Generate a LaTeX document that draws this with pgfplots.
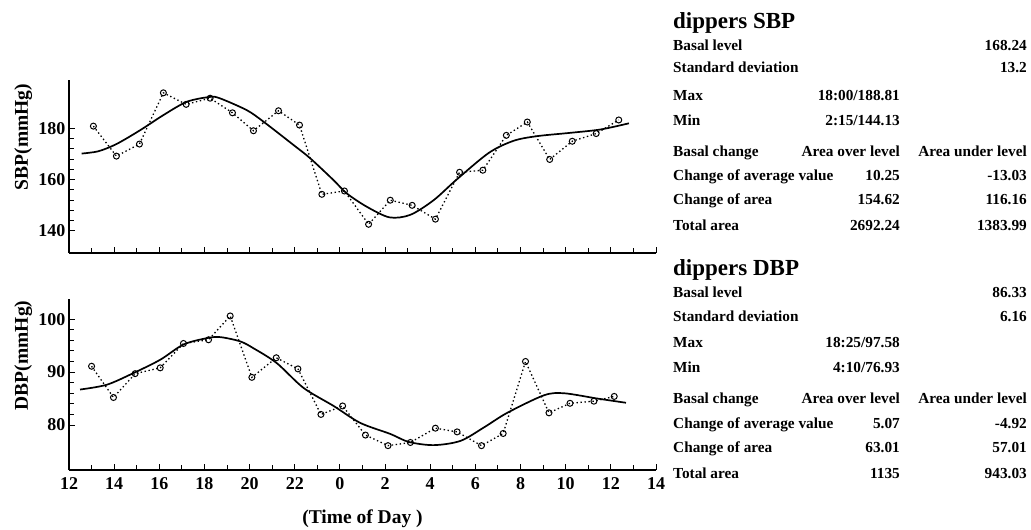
\documentclass[border=0pt]{standalone}
\usepackage{fontspec}
\setmainfont{Liberation Serif}
\usepackage{pgfplots}
\pgfplotsset{compat=1.18}
\newcommand\rt{\fontsize{15.3}{17}\selectfont\bfseries}
\newcommand\ttl{\fontsize{23}{26}\selectfont\bfseries}
\begin{document}
\begin{tikzpicture}
\useasboundingbox (0pt,0pt) rectangle (1031pt,-530pt);
\pgfplotsset{
 bpaxis/.style={
  scale only axis, width=587pt,
  xmin=12, xmax=38,
  axis x line=bottom, axis y line=left,
  axis line style={-, line width=1.6pt},
  tick align=inside,
  xtick={12,14,...,38}, minor x tick num=1,
  minor y tick num=4,
  major tick length=6pt, minor tick length=5pt,
  every tick/.style={line width=1pt, black},
  tick label style={font=\fontsize{18}{20}\selectfont\bfseries},
  /pgf/number format/assume math mode=true,
  label style={font=\fontsize{19.5}{22}\selectfont\bfseries},
  ylabel style={at={(axis description cs:-0.078,0.67)}, anchor=center},
  clip=false,
 },
 obs/.style={black, dash pattern=on 1.4pt off 2.6pt, line width=1.3pt, mark=o, mark size=3pt, mark options={solid, line width=1pt}},
 fitc/.style={black, line width=1.7pt, smooth, no marks},
}
% ---------- SBP ----------
\begin{axis}[bpaxis, at={(69pt,-253pt)}, anchor=south west, height=173pt,
  ymin=131.4, ymax=198.9, ytick={140,160,180}, xticklabels={},
  ylabel={SBP(mmHg)}]
\addplot[obs] coordinates {
(13.08,180.9) (14.10,169.2) (15.12,173.9) (16.18,193.9) (17.19,189.4) (18.25,191.8)
(19.24,186.1) (20.17,179.1) (21.28,186.9) (22.21,181.3) (23.20,154.3) (24.20,155.6)
(25.27,142.6) (26.23,152.0) (27.20,150.0) (28.23,144.6) (29.30,162.9) (30.33,163.7)
(31.37,177.3) (32.30,182.5) (33.29,167.9) (34.29,175.0) (35.35,178.0) (36.35,183.3)};
\addplot[fitc] coordinates {
(12.56,170.2) (13.3,171.1) (14.1,173.9) (15.15,179.3) (16.18,185.2) (17.22,190.4)
(18.25,192.3) (18.7,191.7) (19.88,187.1) (20.62,182.6) (21.95,173.5) (22.69,168.3)
(23.72,159.8) (24.31,154.6) (25.2,149.4) (26.2,145.3) (27.12,146.3) (28.15,152.0)
(29.15,159.9) (30.6,170.5) (31.7,175.2) (32.74,177.0) (34.22,178.3) (35.55,179.6) (36.8,182.0)};
\end{axis}
% ---------- DBP ----------
\begin{axis}[bpaxis, at={(69pt,-470pt)}, anchor=south west, height=171pt,
  ymin=71.5, ymax=103.8, ytick={80,90,100},
  xticklabels={12,14,16,18,20,22,0,2,4,6,8,10,12,14},
  xticklabel style={yshift=-4pt},
  ylabel={DBP(mmHg)},
  xlabel={(Time of Day )},
  xlabel style={at={(axis description cs:0.5,-0.31)}, anchor=base}]
\addplot[obs] coordinates {
(13.00,91.1) (13.97,85.2) (14.93,89.7) (16.04,90.8) (17.07,95.4) (18.18,96.1)
(19.14,100.6) (20.10,89.0) (21.18,92.7) (22.14,90.6) (23.16,82.0) (24.12,83.6)
(25.13,78.1) (26.13,76.1) (27.12,76.7) (28.23,79.4) (29.19,78.7) (30.27,76.1)
(31.23,78.4) (32.22,92.0) (33.26,82.3) (34.19,84.1) (35.25,84.5) (36.15,85.4)};
\addplot[fitc] coordinates {
(12.49,86.7) (13.67,87.6) (14.85,89.8) (16.03,92.3) (17.07,95.2) (18.1,96.4)
(18.7,96.6) (19.58,95.8) (20.17,94.5) (21.2,91.7) (22.39,87.0) (23.72,83.6)
(24.9,80.4) (26.24,78.3) (27.05,76.8) (28.16,76.2) (29.34,77.0) (30.4,79.6) (31.41,82.3)
(33.03,85.6) (33.92,86.0) (35.4,85.0) (36.67,84.2)};
\end{axis}
% ---------- text panels ----------
\begin{scope}[every node/.style={inner sep=0pt}]
\node[anchor=base west] at (673pt,-28pt) {\ttl dippers SBP};
\node[anchor=base west] at (673pt,-50pt) {\rt Basal level};
\node[anchor=base east] at (1027pt,-50pt) {\rt 168.24};
\node[anchor=base west] at (673pt,-72.7pt) {\rt Standard deviation};
\node[anchor=base east] at (1027pt,-72.7pt) {\rt 13.2};
\node[anchor=base west] at (673pt,-100pt) {\rt Max};
\node[anchor=base east] at (900pt,-100pt) {\rt 18:00/188.81};
\node[anchor=base west] at (673pt,-125pt) {\rt Min};
\node[anchor=base east] at (900pt,-125pt) {\rt 2:15/144.13};
\node[anchor=base west] at (673pt,-156pt) {\rt Basal change};
\node[anchor=base east] at (900pt,-156pt) {\rt Area over level};
\node[anchor=base east] at (1027pt,-156pt) {\rt Area under level};
\node[anchor=base west] at (673pt,-180.7pt) {\rt Change of average value};
\node[anchor=base east] at (900pt,-180.7pt) {\rt 10.25};
\node[anchor=base east] at (1027pt,-180.7pt) {\rt -13.03};
\node[anchor=base west] at (673pt,-204pt) {\rt Change of area};
\node[anchor=base east] at (900pt,-204pt) {\rt 154.62};
\node[anchor=base east] at (1027pt,-204pt) {\rt 116.16};
\node[anchor=base west] at (673pt,-230pt) {\rt Total area};
\node[anchor=base east] at (900pt,-230pt) {\rt 2692.24};
\node[anchor=base east] at (1027pt,-230pt) {\rt 1383.99};
%
\node[anchor=base west] at (673pt,-275pt) {\ttl dippers DBP};
\node[anchor=base west] at (673pt,-297pt) {\rt Basal level};
\node[anchor=base east] at (1027pt,-297pt) {\rt 86.33};
\node[anchor=base west] at (673pt,-321pt) {\rt Standard deviation};
\node[anchor=base east] at (1027pt,-321pt) {\rt 6.16};
\node[anchor=base west] at (673pt,-347pt) {\rt Max};
\node[anchor=base east] at (900pt,-347pt) {\rt 18:25/97.58};
\node[anchor=base west] at (673pt,-372pt) {\rt Min};
\node[anchor=base east] at (900pt,-372pt) {\rt 4:10/76.93};
\node[anchor=base west] at (673pt,-403pt) {\rt Basal change};
\node[anchor=base east] at (900pt,-403pt) {\rt Area over level};
\node[anchor=base east] at (1027pt,-403pt) {\rt Area under level};
\node[anchor=base west] at (673pt,-428pt) {\rt Change of average value};
\node[anchor=base east] at (900pt,-428pt) {\rt 5.07};
\node[anchor=base east] at (1027pt,-428pt) {\rt -4.92};
\node[anchor=base west] at (673pt,-452pt) {\rt Change of area};
\node[anchor=base east] at (900pt,-452pt) {\rt 63.01};
\node[anchor=base east] at (1027pt,-452pt) {\rt 57.01};
\node[anchor=base west] at (673pt,-478pt) {\rt Total area};
\node[anchor=base east] at (900pt,-478pt) {\rt 1135};
\node[anchor=base east] at (1027pt,-478pt) {\rt 943.03};
\end{scope}
\end{tikzpicture}
\end{document}
